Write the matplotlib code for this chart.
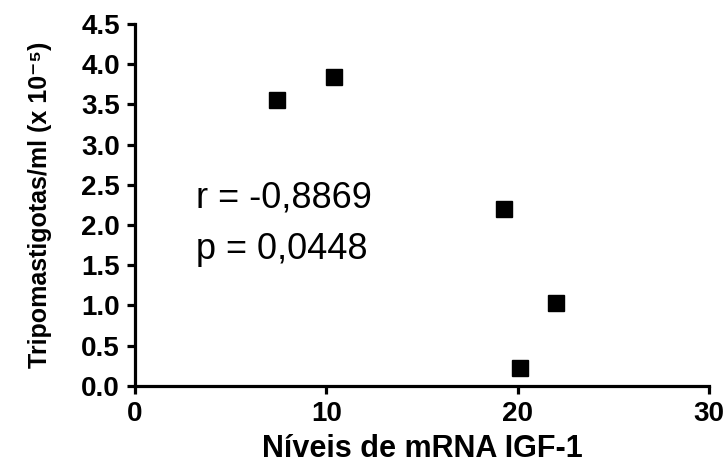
import matplotlib
matplotlib.use("Agg")
import matplotlib.pyplot as plt

plt.rcParams['font.family'] = ['Liberation Sans', 'DejaVu Sans']

# data
igf1_mrna = [7.4, 10.4, 19.3, 22.0, 20.1]
tripomastigotas = [3.56, 3.84, 2.20, 1.03, 0.22]
x_ticks = [0, 10, 20, 30]
y_ticks = [0.0, 0.5, 1.0, 1.5, 2.0, 2.5, 3.0, 3.5, 4.0, 4.5]
stats_text = ["r = -0,8869", "p = 0,0448"]

fig = plt.figure(figsize=(7.26, 4.70), dpi=100)
ax = fig.add_axes([0.186, 0.179, 0.791, 0.770])

ax.plot(igf1_mrna, tripomastigotas, linestyle='none', marker='s',
        markersize=12, color='black', clip_on=False)

ax.set_xlim(0, 30)
ax.set_ylim(0, 4.5)
ax.set_xticks(x_ticks)
ax.set_yticks(y_ticks)
ax.set_yticklabels([f"{v:.1f}" for v in y_ticks])

for s in ['top', 'right']:
    ax.spines[s].set_visible(False)
for s in ['left', 'bottom']:
    ax.spines[s].set_linewidth(2.3)
ax.tick_params(width=2.3, length=6, labelsize=20, direction='out', pad=5)
for lbl in ax.get_xticklabels() + ax.get_yticklabels():
    lbl.set_fontweight('bold')

ax.set_xlabel("Níveis de mRNA IGF-1", fontsize=22, fontweight='bold', labelpad=5)
ax.set_ylabel("Tripomastigotas/ml (x 10⁻⁵)", fontsize=18,
              fontweight='bold', labelpad=21)

ax.text(3.2, 2.214, stats_text[0], fontsize=26, va='baseline', ha='left')
ax.text(3.2, 1.58, stats_text[1], fontsize=26, va='baseline', ha='left')

fig.savefig("out.png", dpi=100)
